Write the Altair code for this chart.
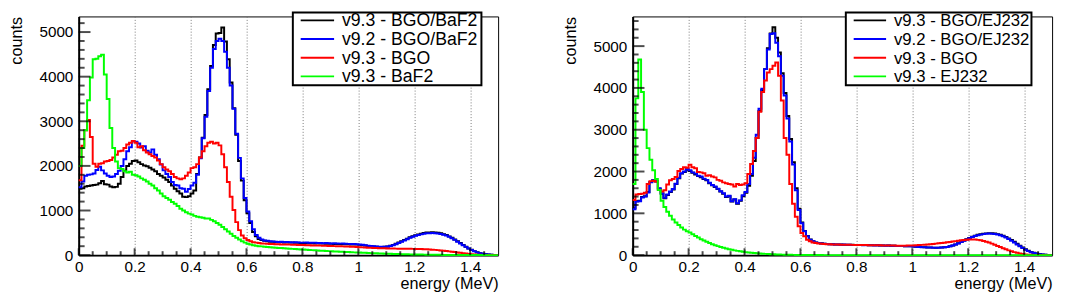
import altair as alt
import pandas as pd

FONT = "Liberation Sans"
W, H = 427, 243

# ---------------- data ----------------
bin_edges = [round(0.01 * i, 2) for i in range(151)]  # 150 bins of 0.01 MeV

left_names = ["v9.3 - BGO/BaF2", "v9.2 - BGO/BaF2", "v9.3 - BGO", "v9.3 - BaF2"]
right_names = ["v9.3 - BGO/EJ232", "v9.2 - BGO/EJ232", "v9.3 - BGO", "v9.3 - EJ232"]
colors = ["#000000", "#0000ff", "#ff0000", "#00ff00"]

left_black = [
    1490, 1500, 1540, 1550, 1560, 1570, 1580, 1610, 1660, 1590,
    1580, 1540, 1520, 1530, 1600, 1750, 1890, 2000, 2050, 2110,
    2120, 2080, 2040, 2010, 1990, 1960, 1920, 1880, 1820, 1780,
    1740, 1690, 1640, 1560, 1490, 1430, 1380, 1310, 1300, 1320,
    1380, 1450, 1820, 2190, 2630, 3140, 3720, 4240, 4710, 4970,
    4980, 5100, 4790, 4390, 3870, 3290, 2700, 2110, 1670, 1230,
    940, 720, 520, 420, 360, 340, 320, 310, 300, 300,
    295, 290, 292, 285, 287, 280, 282, 275, 277, 270,
    270, 268, 266, 265, 262, 263, 260, 258, 256, 255,
    252, 251, 250, 248, 246, 245, 242, 240, 238, 235,
    230, 222, 215, 205, 198, 192, 188, 184, 182, 186,
    195, 210, 230, 255, 282, 310, 340, 370, 400, 425,
    445, 465, 480, 495, 505, 510, 515, 510, 500, 490,
    470, 450, 420, 390, 350, 310, 270, 230, 190, 150,
    120, 90, 65, 45, 30, 20, 12, 8, 4, 2,
]
left_blue = [
    1520, 1650, 1780, 1800, 1810, 1830, 1910, 1980, 1900, 1830,
    1780, 1750, 1760, 1820, 1890, 2000, 2150, 2330, 2420, 2550,
    2540, 2500, 2410, 2440, 2340, 2300, 2370, 2250, 2150, 2030,
    1900, 1820, 1750, 1640, 1570, 1560, 1500, 1490, 1420, 1480,
    1560, 1620, 1800, 2170, 2620, 3100, 3680, 4200, 4620, 4800,
    4850, 4800, 4560, 4200, 3800, 3280, 2720, 2180, 1720, 1280,
    980, 760, 580, 450, 390, 350, 330, 320, 310, 305,
    300, 295, 298, 290, 292, 288, 285, 290, 282, 280,
    280, 285, 278, 275, 280, 272, 270, 268, 270, 265,
    262, 265, 260, 258, 262, 255, 252, 250, 248, 245,
    240, 232, 222, 212, 205, 198, 192, 188, 186, 188,
    192, 205, 222, 245, 270, 298, 328, 358, 388, 412,
    432, 450, 465, 478, 488, 492, 495, 492, 485, 475,
    458, 438, 410, 380, 342, 302, 262, 222, 185, 148,
    115, 86, 62, 44, 30, 20, 12, 8, 4, 2,
]
left_red = [
    1680, 2450, 2800, 3030, 2650, 2050, 1980, 2050, 2060, 2100,
    2110, 2130, 2190, 2250, 2330, 2340, 2400, 2480, 2520, 2560,
    2520, 2420, 2440, 2350, 2300, 2260, 2220, 2190, 2120, 2040,
    1970, 1920, 1880, 1820, 1750, 1720, 1700, 1720, 1780, 1850,
    1950, 1970, 2040, 2190, 2330, 2440, 2520, 2540, 2500, 2520,
    2460, 2260, 1970, 1640, 1310, 1010, 740, 560, 440, 380,
    340, 310, 290, 280, 270, 262, 258, 255, 250, 248,
    245, 243, 240, 239, 236, 235, 232, 231, 228, 226,
    225, 222, 221, 218, 217, 214, 213, 210, 209, 206,
    205, 202, 201, 198, 196, 195, 192, 190, 186, 182,
    178, 174, 170, 166, 163, 160, 158, 156, 154, 152,
    150, 149, 147, 146, 145, 144, 143, 142, 141, 140,
    139, 138, 136, 134, 130, 126, 122, 118, 112, 106,
    100, 92, 84, 76, 68, 60, 52, 44, 36, 28,
    20, 15, 10, 7, 5, 3, 2, 1, 1, 0,
]
left_green = [
    2000, 2400, 2800, 3470, 3980, 4390, 4400, 4460, 4490, 4050,
    3500, 2850, 2400, 2100, 1950, 1930, 1880, 1850, 1870, 1800,
    1790, 1760, 1720, 1690, 1650, 1600, 1560, 1500, 1450, 1380,
    1320, 1280, 1240, 1190, 1150, 1100, 1040, 1000, 960, 930,
    910, 880, 860, 850, 840, 820, 820, 790, 760, 720,
    680, 630, 580, 530, 480, 430, 390, 350, 310, 280,
    255, 240, 222, 210, 200, 196, 190, 182, 176, 170,
    166, 162, 158, 152, 148, 144, 140, 136, 132, 128,
    124, 120, 116, 112, 108, 104, 100, 97, 94, 90,
    86, 83, 80, 77, 74, 71, 68, 65, 62, 60,
    57, 54, 51, 48, 45, 42, 40, 38, 35, 33,
    31, 29, 27, 25, 23, 21, 20, 18, 17, 15,
    14, 13, 12, 11, 10, 9, 8, 7, 6, 6,
    5, 5, 4, 4, 3, 3, 3, 2, 2, 2,
    1, 1, 1, 1, 1, 0, 0, 0, 0, 0,
]

right_black = [
    1120, 1290, 1300, 1390, 1410, 1510, 1750, 1790, 1760, 1590,
    1470, 1360, 1440, 1510, 1570, 1700, 1840, 1950, 1990, 2040,
    2010, 1970, 1930, 1890, 1860, 1820, 1790, 1720, 1670, 1630,
    1580, 1520, 1470, 1390, 1410, 1280, 1330, 1230, 1300, 1410,
    1490, 1660, 1900, 2250, 2800, 3450, 3950, 4450, 4950, 5300,
    5450, 5200, 4850, 4350, 3880, 3330, 2780, 2220, 1600, 1110,
    780, 580, 455, 372, 332, 305, 292, 282, 274, 266,
    262, 258, 256, 252, 252, 250, 249, 246, 246, 243,
    243, 240, 239, 240, 237, 235, 233, 234, 231, 228,
    227, 228, 225, 222, 221, 218, 217, 214, 213, 210,
    206, 201, 196, 191, 187, 183, 181, 179, 177, 179,
    182, 188, 197, 212, 230, 254, 283, 316, 350, 382,
    412, 440, 464, 485, 500, 512, 520, 524, 522, 515,
    502, 485, 462, 435, 400, 360, 318, 272, 226, 182,
    142, 106, 78, 55, 38, 25, 15, 9, 5, 2,
]
right_blue = [
    1100, 1280, 1290, 1380, 1400, 1500, 1740, 1790, 1770, 1600,
    1480, 1370, 1450, 1520, 1580, 1710, 1850, 1960, 2000, 2060,
    2030, 1980, 1950, 1900, 1880, 1830, 1800, 1730, 1680, 1640,
    1590, 1530, 1480, 1400, 1420, 1290, 1340, 1240, 1310, 1430,
    1510, 1700, 1940, 2330, 2880, 3500, 3980, 4450, 4920, 5290,
    5310, 5080, 4760, 4290, 3820, 3270, 2720, 2170, 1550, 1080,
    760, 570, 450, 370, 330, 305, 292, 280, 272, 265,
    260, 258, 255, 252, 250, 252, 248, 246, 245, 243,
    242, 240, 238, 240, 236, 235, 232, 234, 230, 228,
    226, 228, 224, 222, 220, 218, 216, 214, 212, 210,
    205, 200, 195, 190, 186, 182, 180, 178, 176, 178,
    180, 186, 195, 210, 228, 252, 280, 312, 345, 375,
    405, 432, 455, 475, 490, 502, 510, 515, 512, 505,
    492, 475, 450, 420, 385, 345, 300, 255, 210, 168,
    130, 96, 70, 50, 34, 22, 14, 8, 4, 2,
]
right_red = [
    1320, 1450, 1460, 1470, 1490, 1700, 1770, 1780, 1760, 1560,
    1520, 1550, 1690, 1790, 1820, 1870, 2010, 2060, 2100, 2090,
    2160, 2100, 2080, 1990, 1980, 1960, 1900, 1910, 1880, 1860,
    1800, 1780, 1740, 1720, 1700, 1690, 1640, 1700, 1680, 1690,
    1720, 1940, 2180, 2490, 2800, 3430, 3900, 4180, 4370, 4450,
    4530, 4610, 4290, 3700, 2800, 2400, 1700, 1230, 920, 690,
    530, 450, 370, 330, 300, 290, 280, 272, 266, 262,
    258, 256, 254, 252, 250, 250, 248, 246, 245, 244,
    243, 242, 240, 240, 238, 237, 236, 235, 234, 232,
    230, 230, 228, 228, 226, 226, 225, 226, 228, 230,
    232, 236, 240, 245, 250, 256, 262, 268, 275, 282,
    290, 298, 306, 315, 325, 335, 345, 355, 362, 368,
    372, 374, 372, 365, 355, 340, 322, 300, 275, 248,
    220, 192, 164, 138, 114, 92, 72, 55, 40, 28,
    18, 12, 8, 5, 3, 2, 1, 1, 0, 0,
]
right_green = [
    1700, 3750, 4680, 3900, 3000, 2560, 2280, 2030, 1820, 1560,
    1300, 1150, 1040, 940, 850, 780, 720, 660, 610, 570,
    540, 500, 460, 420, 380, 350, 320, 290, 262, 238,
    215, 195, 175, 158, 142, 128, 114, 102, 91, 81,
    72, 64, 57, 50, 44, 39, 34, 30, 26, 22,
    19, 16, 14, 12, 10, 8, 7, 6, 5, 4,
    3, 3, 2, 2, 1, 1, 1, 1, 0, 0,
    0, 0, 0, 0, 0, 0, 0, 0, 0, 0,
    0, 0, 0, 0, 0, 0, 0, 0, 0, 0,
    0, 0, 0, 0, 0, 0, 0, 0, 0, 0,
    0, 0, 0, 0, 0, 0, 0, 0, 0, 0,
    0, 0, 0, 0, 0, 0, 0, 0, 0, 0,
    0, 0, 0, 0, 0, 0, 0, 0, 0, 0,
    0, 0, 0, 0, 0, 0, 0, 0, 0, 0,
    0, 0, 0, 0, 0, 0, 0, 0, 0, 0,
]

x_major = [0, 0.2, 0.4, 0.6, 0.8, 1.0, 1.2, 1.4]
x_minor = [0.05, 0.1, 0.15, 0.25, 0.3, 0.35, 0.45, 0.5, 0.55, 0.65, 0.7, 0.75,
           0.85, 0.9, 0.95, 1.05, 1.1, 1.15, 1.25, 1.3, 1.35, 1.45]
left_y_major = [0, 1000, 2000, 3000, 4000, 5000]
left_y_minor = [200, 400, 600, 800, 1200, 1400, 1600, 1800, 2200, 2400, 2600, 2800,
                3200, 3400, 3600, 3800, 4200, 4400, 4600, 4800, 5200]
right_y_major = [0, 1000, 2000, 3000, 4000, 5000]
right_y_minor = [200, 400, 600, 800, 1200, 1400, 1600, 1800, 2200, 2400, 2600, 2800,
                 3200, 3400, 3600, 3800, 4200, 4400, 4600, 4800, 5200, 5400, 5600]
left_ymax = 5350
right_ymax = 5710


def panel(names, series, ymax, y_major, y_minor, lg_x, lg_w, lg_line, lg_font):
    rows = []
    for name, vals in zip(names, series):
        for i, v in enumerate(vals):
            rows.append({"series": name, "energy": bin_edges[i], "count": v})
        rows.append({"series": name, "energy": bin_edges[len(vals)], "count": vals[-1]})
    df = pd.DataFrame(rows)

    xscale = alt.Scale(domain=[0, 1.5], nice=False, zero=False)
    yscale = alt.Scale(domain=[0, ymax], nice=False, zero=True)
    xaxis = alt.Axis(
        values=x_major, format="~g", labelFlush=False, labelOverlap=False, ticks=False,
        grid=True, gridColor="#777777", gridDash=[1, 2], gridWidth=1,
        domainColor="black", domainWidth=2,
        labelFont=FONT, labelFontSize=15.5, labelColor="black", labelPadding=5,
        title="energy (MeV)", titleFont=FONT, titleFontSize=16.5, titleFontWeight="normal",
        titleColor="black", titleX=W, titleY=29, titleAlign="right", titleBaseline="middle",
        titleAnchor="end",
    )
    yaxis = alt.Axis(
        values=y_major, format="d", labelFlush=False, labelOverlap=False, ticks=False,
        grid=False, domainColor="black", domainWidth=2,
        labelFont=FONT, labelFontSize=15.5, labelColor="black", labelPadding=6,
        title="counts", titleFont=FONT, titleFontSize=16.5, titleFontWeight="normal",
        titleColor="black", titleAngle=270, titleX=-63, titleY=0, titleAlign="right",
        titleBaseline="middle", titleAnchor="end",
    )
    X = alt.X("energy:Q", scale=xscale, axis=xaxis)
    Y = alt.Y("count:Q", scale=yscale, axis=yaxis)

    lines = alt.Chart(df).mark_line(interpolate="step-after", strokeWidth=2).encode(
        x=X, y=Y,
        color=alt.Color("series:N", scale=alt.Scale(domain=names, range=colors), legend=None),
    )

    ymaj = alt.Chart(pd.DataFrame({"count": y_major})).mark_tick(
        color="black", size=12, thickness=2).encode(y=Y, x=alt.value(6))
    ymin = alt.Chart(pd.DataFrame({"count": y_minor})).mark_tick(
        color="black", size=6, thickness=2).encode(y=Y, x=alt.value(3))
    xmaj = alt.Chart(pd.DataFrame({"energy": x_major})).mark_tick(
        color="black", size=7, thickness=2).encode(x=X, y=alt.value(H - 3.5))
    xmin = alt.Chart(pd.DataFrame({"energy": x_minor})).mark_tick(
        color="black", size=4, thickness=2).encode(x=X, y=alt.value(H - 2))

    # invisible spacer fixing the room left of the plot (for the y title)
    spacer = alt.Chart(pd.DataFrame({"k": [0]})).mark_rect(opacity=0).encode(
        x=alt.value(-70), x2=alt.value(-69), y=alt.value(100), y2=alt.value(101))

    # legend box drawn by hand (ROOT TLegend look)
    box = alt.Chart(pd.DataFrame({"k": [0]})).mark_rect(
        fill="white", stroke="black", strokeWidth=2).encode(
        x=alt.value(lg_x), x2=alt.value(lg_x + lg_w),
        y=alt.value(-4), y2=alt.value(70))
    entries = []
    for k, (name, col) in enumerate(zip(names, colors)):
        yy = 4 + 19 * k
        d = pd.DataFrame({"label": [name]})
        entries.append(alt.Chart(d).mark_rule(color=col, strokeWidth=2).encode(
            x=alt.value(lg_x + 8), x2=alt.value(lg_x + 8 + lg_line), y=alt.value(yy)))
        entries.append(alt.Chart(d).mark_text(
            align="left", baseline="middle", font=FONT, fontSize=lg_font, color="black").encode(
            x=alt.value(lg_x + 16 + lg_line), y=alt.value(yy + 1), text="label:N"))

    return alt.layer(lines, ymaj, ymin, xmaj, xmin, spacer, box, *entries).properties(
        width=W, height=H)


left = panel(left_names, [left_black, left_blue, left_red, left_green],
             left_ymax, left_y_major, left_y_minor, 218, 192, 34, 18)
right = panel(right_names, [right_black, right_blue, right_red, right_green],
              right_ymax, right_y_major, right_y_minor, 217, 189, 33, 17)

chart = (
    alt.hconcat(left, right, spacing=60)
    .resolve_scale(color="independent", x="independent", y="independent")
    .properties(padding=0, background="white")
    .configure_view(stroke="black", strokeWidth=1, fill="white")
)

chart.save("out.html", embed_options={"renderer": "svg", "actions": False})
